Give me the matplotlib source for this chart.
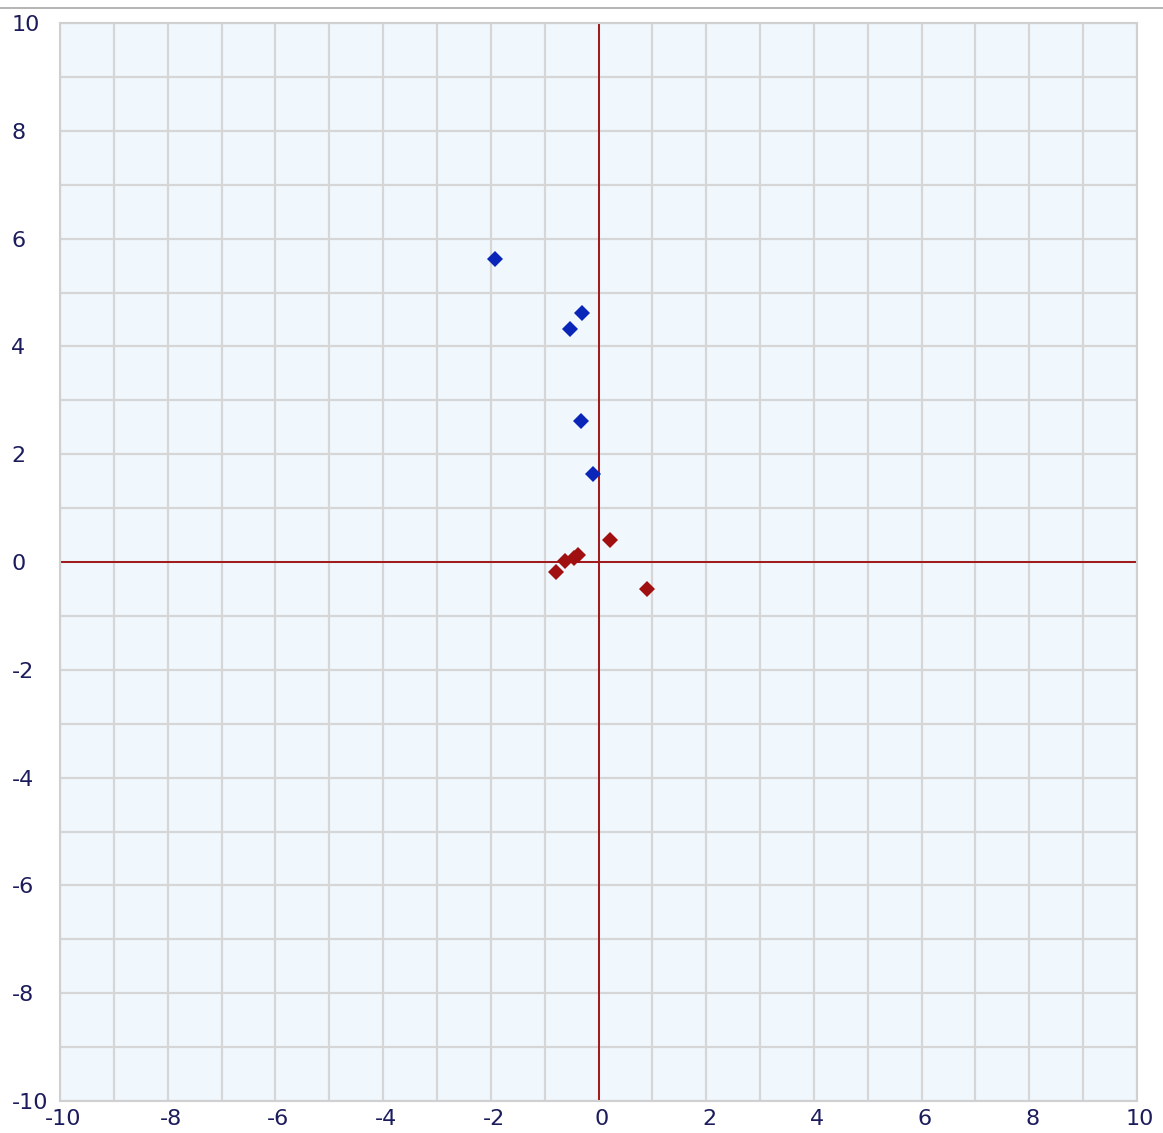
import matplotlib
matplotlib.use("Agg")
import matplotlib.pyplot as plt
import matplotlib.transforms as mtransforms
from matplotlib.lines import Line2D

# Data
blue_x = [-1.92, -0.31, -0.53, -0.32, -0.10]
blue_y = [5.62, 4.62, 4.32, 2.62, 1.63]
red_x = [0.21, 0.90, -0.79, -0.62, -0.45, -0.38]
red_y = [0.41, -0.50, -0.19, 0.02, 0.08, 0.13]
tick_vals = [-10, -8, -6, -4, -2, 0, 2, 4, 6, 8, 10]
grid_vals = list(range(-10, 11))

W, H = 1163, 1133
fig = plt.figure(figsize=(W / 100, H / 100), dpi=100)
fig.patch.set_facecolor("white")
ax = fig.add_axes([60 / W, 1 - 1101 / H, (1137 - 60) / W, (1101 - 23) / H])
ax.set_facecolor("#f0f8fe")
ax.set_xlim(-10, 10)
ax.set_ylim(-10, 10)

for v in grid_vals:
    ax.axvline(v, color="#d6d6d6", lw=1.6, zorder=1)
    ax.axhline(v, color="#d6d6d6", lw=1.6, zorder=1)
ax.axvline(0, color="#a01818", lw=1.4, zorder=2)
ax.axhline(0, color="#a01818", lw=1.4, zorder=2)

ax.plot(blue_x, blue_y, linestyle="none", marker="D", markersize=8.5,
        color="#0a26b8", markeredgewidth=0, zorder=3)
ax.plot(red_x, red_y, linestyle="none", marker="D", markersize=8.5,
        color="#a01010", markeredgewidth=0, zorder=3)

for s in ax.spines.values():
    s.set_color("#d0d0d0")
    s.set_linewidth(1.5)

ax.set_xticks(tick_vals)
ax.set_yticks(tick_vals)
ax.set_xticklabels([str(v) for v in tick_vals])
ax.set_yticklabels([str(v) for v in tick_vals])
ax.tick_params(length=0, labelsize=16, labelcolor="#1c1c5c")
ax.tick_params(axis="x", pad=6)
ax.tick_params(axis="y", pad=35)
xoff = mtransforms.ScaledTranslation(3 / 100, 0, fig.dpi_scale_trans)
for lab in ax.get_yticklabels():
    lab.set_horizontalalignment("left")
for lab in ax.get_xticklabels():
    lab.set_horizontalalignment("center")
    lab.set_transform(lab.get_transform() + xoff)

# thin separator line at the very top of the image
fig.add_artist(Line2D([0, 1], [1 - 8 / H, 1 - 8 / H], transform=fig.transFigure,
                      color="#a8a8a8", lw=1.2))

fig.savefig("out.png", dpi=100)
